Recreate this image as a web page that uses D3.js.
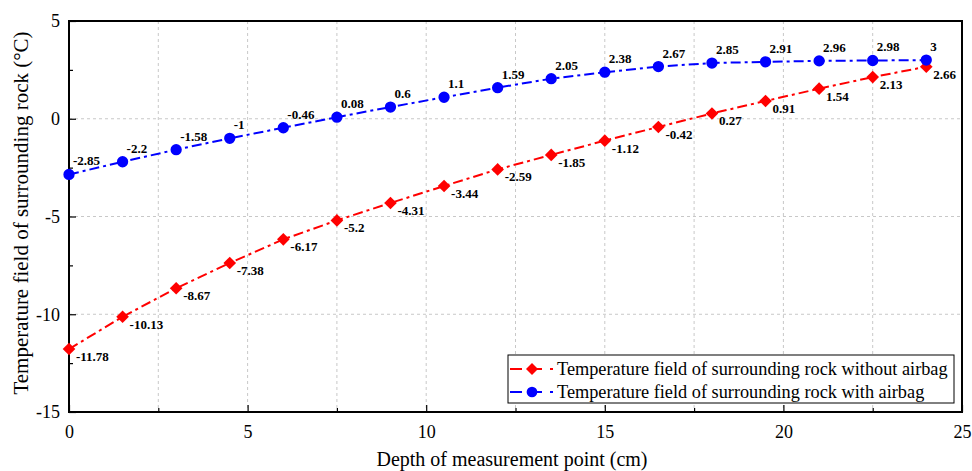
<!DOCTYPE html>
<html>
<head>
<meta charset="utf-8">
<script src="https://cdn.jsdelivr.net/npm/d3@7"></script>
<style>
  body { margin: 0; background: #fff; }
</style>
</head>
<body>
<div id="chart"></div>
<script>
// depth of measuring points (cm)
const depth = [0, 1.5, 3, 4.5, 6, 7.5, 9, 10.5, 12, 13.5, 15, 16.5, 18, 19.5, 21, 22.5, 24];
const noAirbag = [-11.78, -10.13, -8.67, -7.38, -6.17, -5.2, -4.31, -3.44, -2.59, -1.85, -1.12, -0.42, 0.27, 0.91, 1.54, 2.13, 2.66];
const withAirbag = [-2.85, -2.2, -1.58, -1, -0.46, 0.08, 0.6, 1.1, 1.59, 2.05, 2.38, 2.67, 2.85, 2.91, 2.96, 2.98, 3];
const xTicks = [0, 5, 10, 15, 20, 25];
const yTicks = [-15, -10, -5, 0, 5];
const seriesNames = [
  'Temperature field of surrounding rock without airbag',
  'Temperature field of surrounding rock with airbag'
];

const W = 972, H = 471;
const m = { top: 21, right: 10, bottom: 59, left: 69 };
const iw = W - m.left - m.right, ih = H - m.top - m.bottom;
const FONT = "'Liberation Serif', 'Times New Roman', serif";

const chart = d3.select('#chart').append('svg').attr('width', W).attr('height', H)
  .style('font-family', FONT);
const g = chart.append('g').attr('transform', `translate(${m.left},${m.top})`);

const x = d3.scaleLinear().domain([0, 25]).range([0, iw]);
const y = d3.scaleLinear().domain([-15, 5]).range([ih, 0]);

// grid: vertical every 2.5, horizontal at majors only
const vGrid = d3.range(2.5, 25, 2.5);
g.selectAll('.vg').data(vGrid).join('line')
  .attr('x1', d => x(d)).attr('x2', d => x(d))
  .attr('y1', 0).attr('y2', ih)
  .attr('stroke', '#c8c8c8').attr('stroke-dasharray', '3,3');
g.selectAll('.hg').data(yTicks.slice(1, -1)).join('line')
  .attr('x1', 0).attr('x2', iw)
  .attr('y1', d => y(d)).attr('y2', d => y(d))
  .attr('stroke', '#c8c8c8').attr('stroke-dasharray', '3,3');

function styleAxis(sel) {
  sel.attr('font-size', 18).attr('font-family', FONT);
  sel.select('.domain').remove();
  sel.selectAll('line').attr('stroke', '#000').attr('stroke-width', 1.2);
  sel.selectAll('text').attr('fill', '#000').style('font-family', FONT).style('font-size', '18px');
}
const fmt = d => String(d);

// axes (ticks pointing inward)
g.append('g').attr('transform', `translate(0,${ih})`)
  .call(d3.axisBottom(x).tickValues(xTicks).tickFormat(fmt).tickSizeInner(-7).tickSizeOuter(0).tickPadding(13))
  .call(styleAxis);
g.append('g').attr('transform', `translate(0,${ih})`)
  .call(d3.axisBottom(x).tickValues(d3.range(2.5, 25, 5)).tickSizeInner(-4).tickSizeOuter(0).tickFormat(''))
  .call(styleAxis);
g.append('g')
  .call(d3.axisLeft(y).tickValues(yTicks).tickFormat(fmt).tickSizeInner(-7).tickSizeOuter(0).tickPadding(9))
  .call(styleAxis);
g.append('g')
  .call(d3.axisLeft(y).tickValues(d3.range(-12.5, 5, 5)).tickSizeInner(-4).tickSizeOuter(0).tickFormat(''))
  .call(styleAxis);

// frame
g.append('rect').attr('width', iw).attr('height', ih)
  .attr('fill', 'none').attr('stroke', '#000').attr('stroke-width', 2);

// titles
chart.append('text').attr('x', 512).attr('y', 466)
  .attr('text-anchor', 'middle').attr('font-size', 20)
  .text('Depth of measurement point (cm)');
chart.append('text').attr('transform', `translate(28,213) rotate(-90)`)
  .attr('text-anchor', 'middle').attr('font-size', 21)
  .text('Temperature field of surrounding rock (°C)');

const dash = '10,4,3,4';
const line = d3.line().x(d => x(d[0])).y(d => y(d[1]));

const series = [
  { vals: noAirbag, color: '#ff0000', shape: d3.symbolSquare, rot: 45, size: 80, dx: 7, dy: 12 },
  { vals: withAirbag, color: '#0000ff', shape: d3.symbolCircle, rot: 0, size: 100, dx: 4, dy: -9 }
];

series.forEach(s => {
  const pts = depth.map((d, i) => [d, s.vals[i]]);
  g.append('path').datum(pts).attr('d', line)
    .attr('fill', 'none').attr('stroke', s.color).attr('stroke-width', 2)
    .attr('stroke-dasharray', dash);
  g.selectAll(null).data(pts).join('path')
    .attr('transform', d => `translate(${x(d[0])},${y(d[1])}) rotate(${s.rot})`)
    .attr('d', d3.symbol().type(s.shape).size(s.size))
    .attr('fill', s.color);
  g.selectAll(null).data(pts).join('text')
    .attr('x', d => x(d[0]) + s.dx).attr('y', d => y(d[1]) + s.dy)
    .attr('font-size', 13).attr('font-weight', 'bold')
    .text(d => d[1]);
});

// legend
const lg = chart.append('g').attr('transform', 'translate(508,355)');
lg.append('rect').attr('width', 446).attr('height', 48)
  .attr('fill', '#fff').attr('stroke', '#000').attr('stroke-width', 1);
series.forEach((s, i) => {
  const ly = 14 + i * 23;
  lg.append('line').attr('x1', 2).attr('x2', 47).attr('y1', ly).attr('y2', ly)
    .attr('stroke', s.color).attr('stroke-width', 2).attr('stroke-dasharray', '12,6,14,8,3,10');
  lg.append('path').attr('transform', `translate(24,${ly}) rotate(${s.rot})`)
    .attr('d', d3.symbol().type(s.shape).size(s.size * 0.9)).attr('fill', s.color);
  lg.append('text').attr('x', 49).attr('y', ly + 6).attr('font-size', 18.3)
    .text(seriesNames[i]);
});
</script>
</body>
</html>
